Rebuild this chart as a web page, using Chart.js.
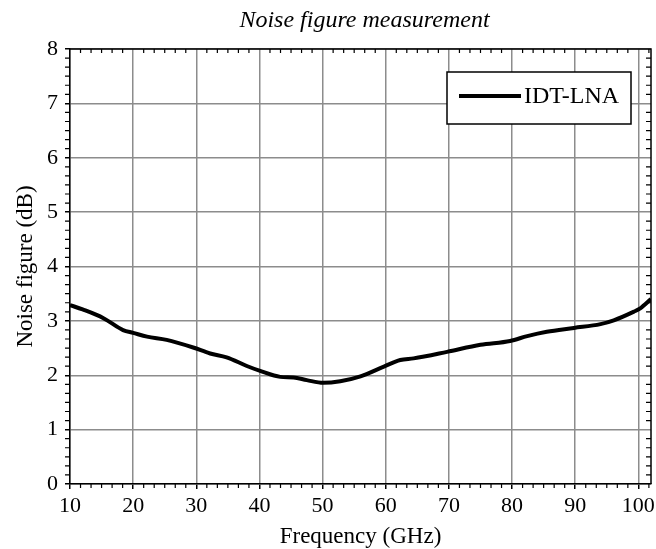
<!DOCTYPE html>
<html>
<head>
<meta charset="utf-8">
<script src="https://cdn.jsdelivr.net/npm/chart.js@4"></script>
<style>
    html, body { margin: 0; padding: 0; background: #fff; }
    #wrap { width: 656px; height: 549px; }
</style>
</head>
<body>
<div id="wrap"><canvas id="nf-chart" width="656" height="549"></canvas></div>
<script>
const frequencyGHz = [10, 12, 15.3, 18.4, 20, 22.2, 25.3, 29.5, 32.2, 34.8, 38, 40.1, 43.3, 45.4, 47.5, 50.1,
    52.8, 56, 59.7, 62.3, 64.4, 69.7, 75, 79.7, 82.4, 85.5, 89.8, 94, 96.1, 99.3, 100.3, 102];
const noiseFigureDb = [3.29, 3.21, 3.05, 2.83, 2.78, 2.71, 2.65, 2.51, 2.40, 2.33, 2.17, 2.08, 1.97, 1.96, 1.91, 1.86,
    1.89, 1.98, 2.16, 2.28, 2.31, 2.43, 2.56, 2.63, 2.72, 2.80, 2.87, 2.94, 3.01, 3.17, 3.23, 3.40];
const seriesLabel = 'IDT-LNA';
const chartTitle = 'Noise figure measurement';
const xRange = [10, 102];
const yRange = [0, 8];
const minorPerMajor = 6;

const SERIF = '"Liberation Serif", "Times New Roman", serif';

/**
 * Draws the title, the closed frame, minor ticks and the inset legend
 */
const framePlugin = {
    id: 'frame',
    afterDraw(chart) {
        const { ctx, chartArea: a, scales } = chart;
        const xs = scales.x, ys = scales.y;
        ctx.save();

        // title centred over the plot area
        ctx.fillStyle = '#000';
        ctx.font = 'italic 24px ' + SERIF;
        ctx.textAlign = 'center';
        ctx.textBaseline = 'middle';
        ctx.fillText(chartTitle, (a.left + a.right) / 2 + 4, 21);

        ctx.strokeStyle = '#000';
        ctx.lineWidth = 1.5;

        // top and right edges
        ctx.beginPath();
        ctx.moveTo(a.left, a.top);
        ctx.lineTo(a.right, a.top);
        ctx.lineTo(a.right, a.bottom);
        ctx.stroke();

        // minor ticks
        ctx.lineWidth = 1.2;
        ctx.beginPath();
        const xStep = 10 / minorPerMajor;
        for (let k = 1; xRange[0] + k * xStep <= xRange[1] + 1e-6; k++) {
            if (k % minorPerMajor === 0) continue;
            const px = xs.getPixelForValue(xRange[0] + k * xStep);
            ctx.moveTo(px, a.bottom);
            ctx.lineTo(px, a.bottom + 4);
            ctx.moveTo(px, a.top);
            ctx.lineTo(px, a.top + 4);
        }
        const yStep = 1 / minorPerMajor;
        for (let k = 1; k * yStep < yRange[1]; k++) {
            if (k % minorPerMajor === 0) continue;
            const py = ys.getPixelForValue(k * yStep);
            ctx.moveTo(a.left, py);
            ctx.lineTo(a.left - 5, py);
            ctx.moveTo(a.right, py);
            ctx.lineTo(a.right - 5, py);
        }
        ctx.stroke();

        // legend box
        const lx = 447, ly = 72, lw = 184, lh = 52;
        ctx.fillStyle = '#fff';
        ctx.fillRect(lx, ly, lw, lh);
        ctx.lineWidth = 1.5;
        ctx.strokeRect(lx, ly, lw, lh);
        ctx.lineWidth = 4;
        ctx.beginPath();
        ctx.moveTo(lx + 12, ly + 24);
        ctx.lineTo(lx + 74, ly + 24);
        ctx.stroke();
        ctx.fillStyle = '#000';
        ctx.font = '24px ' + SERIF;
        ctx.textAlign = 'left';
        ctx.textBaseline = 'middle';
        ctx.fillText(chart.data.datasets[0].label, lx + 77, ly + 25);
        ctx.restore();
    }
};

new Chart(document.getElementById('nf-chart'), {
    type: 'line',
    data: {
        datasets: [{
            label: seriesLabel,
            data: frequencyGHz.map((f, i) => ({ x: f, y: noiseFigureDb[i] })),
            borderColor: '#000',
            borderWidth: 4,
            pointRadius: 0,
            tension: 0.4,
            cubicInterpolationMode: 'monotone',
            fill: false
        }]
    },
    options: {
        responsive: false,
        animation: false,
        layout: { padding: { left: 0, right: 5, top: 49, bottom: 0 } },
        plugins: {
            legend: { display: false },
            tooltip: { enabled: false }
        },
        scales: {
            x: {
                type: 'linear',
                min: xRange[0],
                max: xRange[1],
                afterFit: s => {
                    s.height = 65;
                    s.paddingLeft = 0;
                    s.paddingRight = 0;
                },
                grid: { color: '#8c8c8c', lineWidth: 1.5, tickLength: 5, tickColor: '#000', tickWidth: 1.5 },
                border: { color: '#000', width: 1.5 },
                ticks: {
                    stepSize: 10,
                    includeBounds: false,
                    color: '#000',
                    padding: 4,
                    maxRotation: 0,
                    font: { family: SERIF, size: 22 }
                },
                title: {
                    display: true,
                    text: 'Frequency (GHz)',
                    color: '#000',
                    font: { family: SERIF, size: 23 },
                    padding: { top: -2, bottom: -2 }
                }
            },
            y: {
                min: yRange[0],
                max: yRange[1],
                afterFit: s => {
                    s.width = 70;
                    s.paddingTop = 0;
                    s.paddingBottom = 0;
                },
                grid: { color: '#8c8c8c', lineWidth: 1.5, tickLength: 5, tickColor: '#000', tickWidth: 1.5 },
                border: { color: '#000', width: 1.5 },
                ticks: {
                    stepSize: 1,
                    color: '#000',
                    padding: 7,
                    font: { family: SERIF, size: 22 }
                },
                title: {
                    display: true,
                    text: 'Noise figure (dB)',
                    color: '#000',
                    font: { family: SERIF, size: 23 },
                    padding: { top: 12, bottom: 2 }
                }
            }
        }
    },
    plugins: [framePlugin]
});
</script>
</body>
</html>
